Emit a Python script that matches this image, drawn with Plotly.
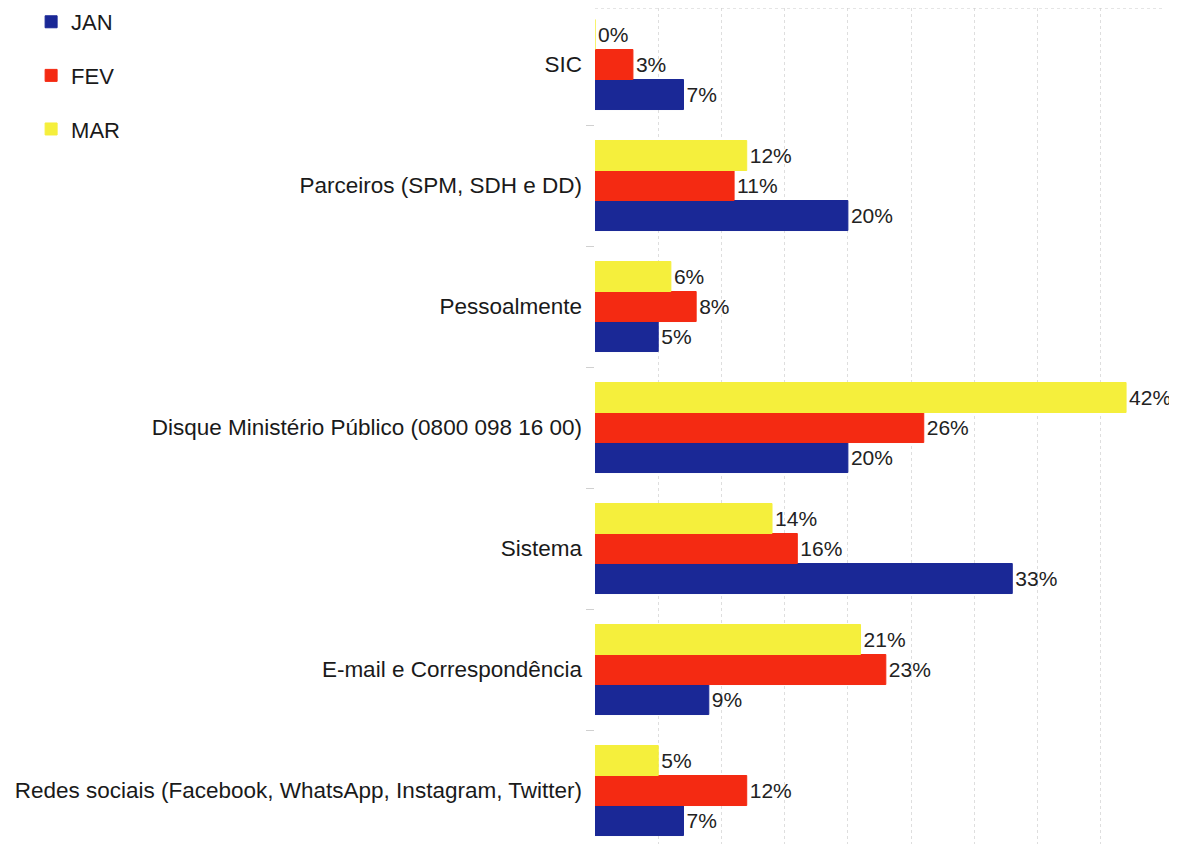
import plotly.graph_objects as go

categories = [
    "SIC",
    "Parceiros (SPM, SDH e DD)",
    "Pessoalmente",
    "Disque Ministério Público (0800 098 16 00)",
    "Sistema",
    "E-mail e Correspondência",
    "Redes sociais (Facebook, WhatsApp, Instagram, Twitter)",
]
jan = [7, 20, 5, 20, 33, 9, 7]
fev = [3, 11, 8, 26, 16, 23, 12]
mar = [0, 12, 6, 42, 14, 21, 5]
series_names = ["JAN", "FEV", "MAR"]
colors = ["#1a2896", "#f42a12", "#f5ef3c"]
x_ticks = [0, 5, 10, 15, 20, 25, 30, 35, 40, 45]

fig = go.Figure()
for name, vals, col in zip(series_names, [jan, fev, mar], colors):
    fig.add_trace(go.Bar(
        y=categories, x=vals, name=name, orientation="h",
        marker=dict(color=col, line=dict(color=col, width=1)),
        text=[f"{v}%" for v in vals], textposition="outside",
        textfont=dict(size=21, color="#222222", family="Liberation Sans, Arial, sans-serif"),
        cliponaxis=False, legendgroup=name,
    ))

fig.update_layout(
    width=1169, height=836,
    margin=dict(l=587, r=13, t=0, b=0, autoexpand=False),
    paper_bgcolor="white", plot_bgcolor="white",
    barmode="group", bargap=0.256, bargroupgap=0,
    font=dict(family="Liberation Sans, Arial, sans-serif", size=22, color="#1a1a1a"),
    showlegend=True,
    legend=dict(
        x=-0.991, y=1.0084, xanchor="left", yanchor="top",
        traceorder="grouped", tracegroupgap=22,
        font=dict(size=22, color="#1a1a1a"),
        bgcolor="rgba(0,0,0,0)",
    ),
    xaxis=dict(
        range=[0, 45], tickvals=x_ticks, showticklabels=False,
        showgrid=True, gridcolor="#dedede", griddash="dot", gridwidth=1,
        zeroline=False, showline=False, ticks="", automargin=False,
    ),
    yaxis=dict(
        categoryorder="array", categoryarray=categories[::-1],
        range=[-0.442, 6.467], automargin=False,
        showgrid=False, zeroline=False, showline=False,
        ticks="outside", tickson="boundaries", ticklen=8, tickcolor="#d0d0d0",
        ticklabelstandoff=12,
        tickfont=dict(size=22.5, color="#1a1a1a"),
    ),
    shapes=[dict(type="line", xref="paper", yref="paper", x0=0, x1=1, y0=1, y1=1,
                 line=dict(color="#cccccc", width=1, dash="dot"))],
)

fig.write_html("out.html")
